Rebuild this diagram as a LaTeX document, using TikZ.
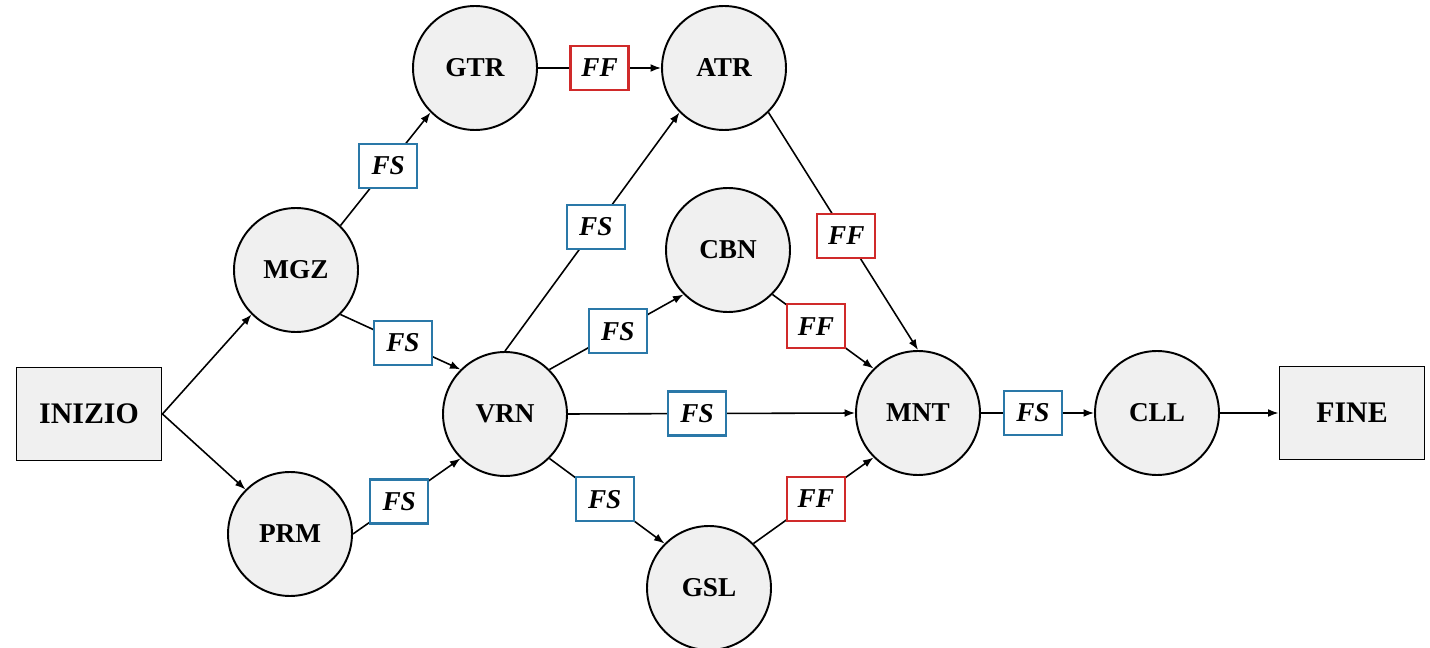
\documentclass[tikz,border=0pt]{standalone}
\usepackage{fontspec}
\setmainfont{Liberation Serif}
\usetikzlibrary{arrows.meta}
\definecolor{NodeFill}{HTML}{F0F0F0}
\definecolor{FSBlue}{HTML}{2A78A8}
\definecolor{FFRed}{HTML}{D02A2A}

\begin{document}
\begin{tikzpicture}[x=0.02cm, y=-0.02cm]
  \tikzstyle{task}=[circle, draw, line width=1.1pt, fill=NodeFill, minimum size=2.48cm, inner sep=0pt, font=\fontsize{15.5}{18}\selectfont\bfseries]
  \tikzstyle{term}=[rectangle, draw, line width=1.1pt, fill=NodeFill, minimum width=2.9cm, minimum height=1.86cm, font=\fontsize{17}{20}\selectfont\bfseries]
  \tikzstyle{rel}=[rectangle, fill=white, line width=1.2pt, minimum width=1.16cm, minimum height=0.88cm, inner sep=0pt, font=\fontsize{15.5}{18}\selectfont\bfseries\itshape]
  \tikzstyle{fs}=[rel, draw=FSBlue]
  \tikzstyle{ff}=[rel, draw=FFRed]
  \tikzstyle{arrow}=[-{Latex[length=6pt,width=4.5pt]}, line width=0.9pt]

  \useasboundingbox (0,0) rectangle (1430,648);

  % start and end
  \node[term] (inizio) at (89,414) {INIZIO};
  \node[term] (fine) at (1352,413) {FINE};

  % activities
  \node[task] (mgz) at (296,270) {MGZ};
  \node[task] (prm) at (290,534) {PRM};
  \node[task] (gtr) at (475,68) {GTR};
  \node[task] (vrn) at (505,414) {VRN};
  \node[task] (atr) at (724,68) {ATR};
  \node[task] (cbn) at (728,250) {CBN};
  \node[task] (gsl) at (709,588) {GSL};
  \node[task] (mnt) at (918,413) {MNT};
  \node[task] (cll) at (1157,413) {CLL};

  % links
  \draw[arrow] (inizio.east) -- (mgz.south west);
  \draw[arrow] (inizio.east) -- (prm.north west);
  \draw[arrow] (mgz.north east) -- node[fs, pos=0.53] (fs1) {FS} (gtr.south west);
  \draw[arrow] (mgz.south east) -- node[fs, pos=0.52] (fs2) {FS} (vrn.north west);
  \draw[arrow] (prm.east) -- node[fs, pos=0.43] (fs3) {FS} (vrn.south west);
  \draw[arrow] (gtr.east) -- node[ff, pos=0.5] (ff1) {FF} (atr.west);
  \draw[arrow] (vrn.north) -- node[fs, pos=0.52] (fs4) {FS} (atr.south west);
  \draw[arrow] (vrn.north east) -- node[fs, pos=0.51] (fs5) {FS} (cbn.south west);
  \draw[arrow] (vrn.east) -- node[fs, pos=0.45] (fs6) {FS} (mnt.west);
  \draw[arrow] (vrn.south east) -- node[fs, pos=0.48] (fs7) {FS} (gsl.north west);
  \draw[arrow] (atr.south east) -- node[ff, pos=0.52] (ff2) {FF} (mnt.north);
  \draw[arrow] (cbn.south east) -- node[ff, pos=0.43] (ff3) {FF} (mnt.north west);
  \draw[arrow] (gsl.north east) -- node[ff, pos=0.52] (ff4) {FF} (mnt.south west);
  \draw[arrow] (mnt.east) -- node[fs, pos=0.46] (fs8) {FS} (cll.west);
  \draw[arrow] (cll.east) -- (fine.west);
\end{tikzpicture}
\end{document}
